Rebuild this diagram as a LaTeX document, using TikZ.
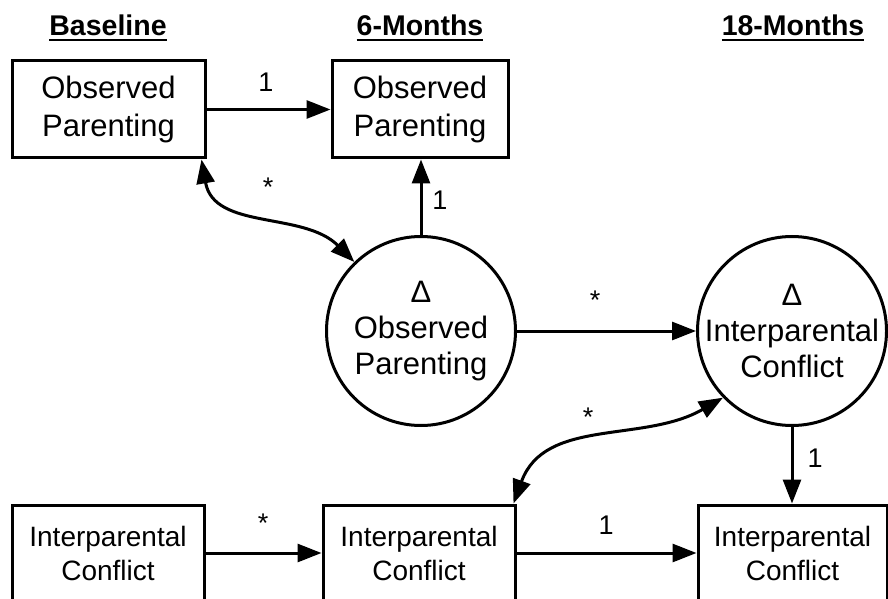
\documentclass[tikz,border=0pt]{standalone}
\usepackage{fontspec}
\setmainfont{Liberation Sans}
\usetikzlibrary{arrows.meta}
\newcommand{\hdrul}[1]{\setbox0\hbox{#1}\rlap{\rule[-5pt]{\wd0}{2pt}}\box0}

\begin{document}
\begin{tikzpicture}[x=1pt,y=1pt,line width=3pt,
  box/.style={draw,rectangle,minimum height=97pt,inner sep=0pt,align=center,font=\fontsize{31}{38}\selectfont},
  lowbox/.style={box,minimum height=96pt,font=\fontsize{28}{34}\selectfont},
  ring/.style={draw,circle,minimum size=189pt,inner sep=0pt},
  ringtext/.style={align=center,font=\fontsize{31}{36}\selectfont},
  hdr/.style={anchor=base,font=\bfseries\fontsize{28.5}{34}\selectfont},
  coef/.style={font=\fontsize{27}{32}\selectfont},
  reg/.style={-{Triangle[length=24pt,width=18pt]}},
  cov/.style={{Triangle[length=24pt,width=18pt]}-{Triangle[length=24pt,width=18pt]}}]
  \useasboundingbox (0,0) rectangle (888,598);
  \node[hdr] (hBase) at (108,562) {\hdrul{Baseline}};
  \node[hdr] (hSix) at (420,562) {\hdrul{6-Months}};
  \node[hdr] (hEighteen) at (793,562) {\hdrul{18-Months}};
  \node[box,minimum width=193pt] (opBase) at (108.5,488.5) {Observed\\Parenting};
  \node[box,minimum width=176pt] (opSix) at (420,488.5) {Observed\\Parenting};
  \node[ring,label={[ringtext]center:{Δ\\Observed\\Parenting}}] (dOP) at (421,267) {};
  \node[ring,label={[ringtext]center:{Δ\\Interparental\\Conflict}}] (dIC) at (792,267) {};
  \node[lowbox,minimum width=192pt] (icBase) at (108,45) {Interparental\\Conflict};
  \node[lowbox,minimum width=192pt] (icSix) at (419,45) {Interparental\\Conflict};
  \node[lowbox,minimum width=189pt] (icEighteen) at (792.5,45) {Interparental\\Conflict};
  \draw[reg] (opBase.east) -- (opSix.west);
  \draw[reg] (dOP.north) -- (dOP.north |- opSix.south);
  \draw[reg] (dOP.east) -- (dIC.west);
  \draw[reg] (dIC.south) -- (dIC.south |- icEighteen.north);
  \draw[reg] (icBase.east) -- (icSix.west);
  \draw[reg] (icSix.east) -- (icEighteen.west);
  \draw[cov] ([xshift=-5pt]opBase.south east) to[out=-80,in=135] (dOP.134);
  \draw[cov] ([xshift=-3pt]icSix.north east) to[out=70,in=210] (dIC.224);
  \node[coef] (kOP) at (266,516) {1};
  \node[coef] (kOPd) at (440,398) {1};
  \node[coef] (sOP) at (268,411) {*};
  \node[coef] (sDelta) at (595,298) {*};
  \node[coef] (sIC) at (588,181) {*};
  \node[coef] (kICd) at (815,140) {1};
  \node[coef] (sICb) at (263,75) {*};
  \node[coef] (kIC) at (606,73) {1};
\end{tikzpicture}
\end{document}
